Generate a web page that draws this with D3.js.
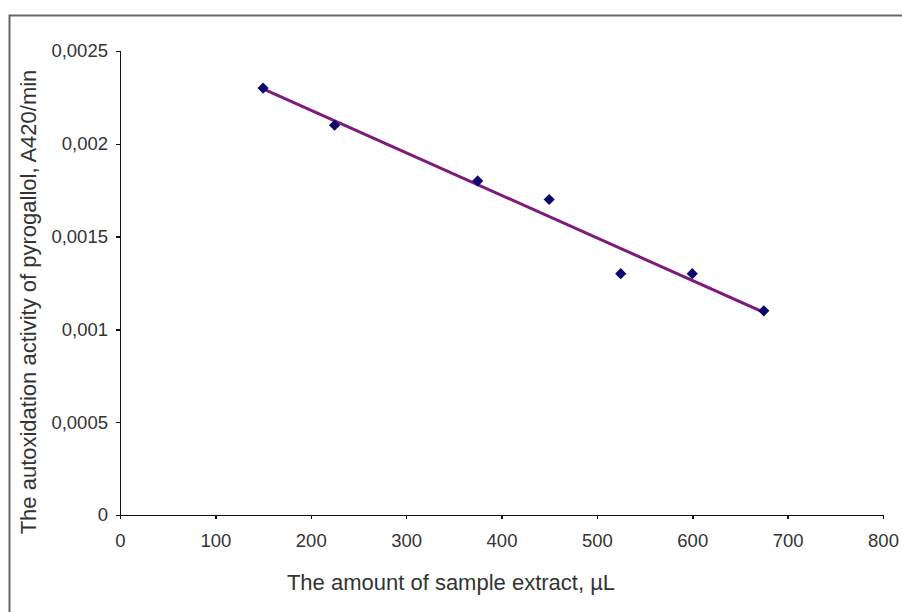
<!DOCTYPE html>
<meta charset="utf-8">
<script src="https://cdn.jsdelivr.net/npm/d3@7"></script>
<style>
body { margin: 0; background: #fff; }
.axis path, .axis line { stroke: #111; stroke-width: 1.5; shape-rendering: crispEdges; }
.axis text { fill: #333; font-family: "Liberation Sans", Arial, sans-serif; font-size: 18.5px; }
.title { fill: #333; font-family: "Liberation Sans", Arial, sans-serif; font-size: 22px; }
</style>
<body>
<div id="chart"></div>
<script>
// ---- data ----
const volumes = [150, 225, 375, 450, 525, 600, 675];            // µL
const activity = [0.0023, 0.0021, 0.0018, 0.0017, 0.0013, 0.0013, 0.0011];
const xTicks = [0, 100, 200, 300, 400, 500, 600, 700, 800];
const yTicks = [0, 0.0005, 0.001, 0.0015, 0.002, 0.0025];
const yTickLabels = ["0", "0,0005", "0,001", "0,0015", "0,002", "0,0025"];

const width = 902, height = 612;

const svg = d3.select("#chart").append("svg")
    .attr("width", width)
    .attr("height", height);

// outer frame (runs off the right and bottom edge)
svg.append("rect")
    .attr("x", 9.5).attr("y", 15.5)
    .attr("width", 920).attr("height", 620)
    .attr("fill", "none")
    .attr("stroke", "#666")
    .attr("stroke-width", 2);

const x = d3.scaleLinear().domain([0, 800]).range([120, 883]);
const y = d3.scaleLinear().domain([0, 0.0025]).range([515, 51]);

// axes
svg.append("g")
    .attr("class", "axis")
    .attr("transform", "translate(0,515)")
    .call(d3.axisBottom(x).tickValues(xTicks).tickSize(4).tickPadding(20).tickSizeOuter(4))
    .selectAll("text").attr("dy", "0.45em");

svg.append("g")
    .attr("class", "axis")
    .attr("transform", "translate(120,0)")
    .call(d3.axisLeft(y).tickValues(yTicks).tickSize(4).tickPadding(8).tickSizeOuter(4)
        .tickFormat((d, i) => yTickLabels[i]));

// linear trend line (least squares over the points)
const mx = d3.mean(volumes), my = d3.mean(activity);
const slope = d3.sum(volumes, (v, i) => (v - mx) * (activity[i] - my)) /
              d3.sum(volumes, v => (v - mx) * (v - mx));
const icpt = my - slope * mx;
const ends = [d3.min(volumes), d3.max(volumes)];

svg.append("path")
    .datum(ends)
    .attr("fill", "none")
    .attr("stroke", "#7d1a7d")
    .attr("stroke-width", 3)
    .attr("d", d3.line().x(d => x(d)).y(d => y(icpt + slope * d)));

// points
svg.selectAll(".pt")
    .data(volumes)
    .enter().append("path")
    .attr("class", "pt")
    .attr("transform", (d, i) => "translate(" + x(d) + "," + y(activity[i]) + ")")
    .attr("d", d3.symbol(d3.symbolDiamond2, 80))
    .attr("fill", "#0a0a6e");

// axis titles
svg.append("text")
    .attr("class", "title")
    .attr("x", 451).attr("y", 590)
    .attr("text-anchor", "middle")
    .text("The amount of sample extract, µL");

svg.append("text")
    .attr("class", "title")
    .attr("transform", "translate(36,302) rotate(-90)")
    .attr("text-anchor", "middle")
    .text("The autoxidation activity of pyrogallol, A420/min");
</script>
</body>
